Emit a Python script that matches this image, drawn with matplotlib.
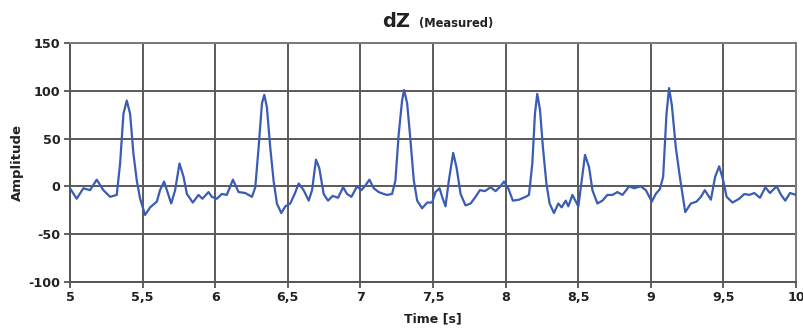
import matplotlib
matplotlib.use("Agg")
import matplotlib.pyplot as plt
from matplotlib.ticker import FuncFormatter

time_s = [
    5.0, 5.046, 5.092, 5.138, 5.184, 5.23, 5.276, 5.322, 5.345, 5.368, 5.391, 5.414,
    5.437, 5.46, 5.483, 5.517, 5.552, 5.598, 5.62, 5.648, 5.667, 5.697, 5.724, 5.754,
    5.782, 5.805, 5.846, 5.885, 5.912, 5.954, 5.977, 6.011, 6.046, 6.08, 6.122, 6.161,
    6.207, 6.253, 6.276, 6.299, 6.322, 6.338, 6.356, 6.379, 6.402, 6.425, 6.455, 6.483,
    6.517, 6.547, 6.575, 6.609, 6.644, 6.667, 6.694, 6.717, 6.747, 6.777, 6.809, 6.846,
    6.881, 6.908, 6.938, 6.977, 7.007, 7.03, 7.062, 7.092, 7.126, 7.161, 7.184, 7.218,
    7.241, 7.264, 7.287, 7.301, 7.322, 7.345, 7.368, 7.391, 7.425, 7.46, 7.494, 7.517,
    7.545, 7.563, 7.586, 7.609, 7.639, 7.662, 7.69, 7.724, 7.759, 7.793, 7.823, 7.857,
    7.897, 7.931, 7.959, 7.989, 8.018, 8.05, 8.092, 8.138, 8.161, 8.184, 8.202, 8.218,
    8.237, 8.257, 8.281, 8.303, 8.333, 8.363, 8.386, 8.414, 8.432, 8.46, 8.501, 8.524,
    8.547, 8.575, 8.598, 8.632, 8.667, 8.701, 8.736, 8.77, 8.805, 8.851, 8.885, 8.931,
    8.966, 9.007, 9.034, 9.062, 9.085, 9.108, 9.126, 9.145, 9.172, 9.2, 9.237, 9.276,
    9.315, 9.345, 9.372, 9.414, 9.443, 9.471, 9.499, 9.522, 9.563, 9.609, 9.644, 9.678,
    9.713, 9.752, 9.789, 9.821, 9.84, 9.867, 9.897, 9.926, 9.959, 10.0,
]
amplitude = [
    -2, -13, -2, -4, 7, -4, -11, -9, 24, 76, 90, 76,
    34, 6, -13, -30, -22, -16, -4, 5, -4, -18, -4, 24,
    10, -8, -17, -9, -13, -6, -11, -13, -8, -9, 7, -6,
    -7, -11, -1, 41, 87, 96, 83, 41, 6, -18, -28, -21,
    -18, -8, 3, -4, -15, -4, 28, 19, -8, -15, -10, -12,
    -1, -8, -11, 0, -4, 0, 7, -2, -6, -8, -9, -8,
    6, 55, 90, 101, 87, 48, 6, -15, -23, -17, -17, -6,
    -2, -11, -21, 6, 35, 20, -8, -20, -18, -11, -4, -5,
    -1, -5, -1, 5, -2, -15, -14, -11, -9, 24, 76, 97,
    80, 41, 3, -18, -28, -18, -22, -15, -21, -9, -21, 6,
    33, 20, -4, -18, -15, -9, -9, -6, -9, 0, -2, 0,
    -4, -16, -8, -3, 10, 76, 103, 85, 41, 10, -27, -18,
    -16, -11, -4, -14, 10, 21, 6, -11, -17, -13, -8, -9,
    -7, -12, -1, -7, -4, 0, -9, -15, -7, -9,
]

x_ticks = [5, 5.5, 6, 6.5, 7, 7.5, 8, 8.5, 9, 9.5, 10]
y_ticks = [-100, -50, 0, 50, 100, 150]

plt.rcParams['font.family'] = ['DejaVu Sans']
plt.rcParams['axes.unicode_minus'] = False

fig = plt.figure(figsize=(8.04, 3.29), dpi=100)
ax = fig.add_axes([70 / 804, 1 - 281.7 / 329, (796 - 70) / 804, (281.7 - 43.3) / 329])

ax.plot(time_s, amplitude, color='#3a5cb4', lw=1.6, solid_joinstyle='round', zorder=3)

ax.set_xlim(5, 10)
ax.set_ylim(-100, 150)
ax.set_xticks(x_ticks)
ax.set_yticks(y_ticks)


def comma_fmt(v, pos):
    s = f"{v:g}"
    return s.replace('.', ',')


ax.xaxis.set_major_formatter(FuncFormatter(comma_fmt))
ax.grid(True, color='#5a5a5a', lw=1.4, zorder=1)
ax.set_axisbelow(True)

for side in ['top', 'right']:
    ax.spines[side].set_color('#7a7a7a')
    ax.spines[side].set_linewidth(1.4)
for side in ['left', 'bottom']:
    ax.spines[side].set_color('#555555')
    ax.spines[side].set_linewidth(1.4)

ax.tick_params(axis='both', direction='out', length=4, width=1.3, color='#555555',
               labelsize=9.2, pad=3)
for lab in ax.get_xticklabels() + ax.get_yticklabels():
    lab.set_fontweight('bold')
    lab.set_color('#222222')

ax.set_xlabel('Time [s]', fontsize=9, fontweight='bold', labelpad=6, color='#222222')
ax.set_ylabel('Amplitude', fontsize=9.5, fontweight='bold', labelpad=3, color='#222222')

fig.text(382 / 804, 1 - 27.3 / 329, 'dZ', fontsize=14, fontweight='bold',
         ha='left', va='baseline', color='#222222')
fig.text(419 / 804, 1 - 27.3 / 329, '(Measured)', fontsize=8.3, fontweight='bold',
         ha='left', va='baseline', color='#222222')

fig.savefig('out.png', dpi=100)
